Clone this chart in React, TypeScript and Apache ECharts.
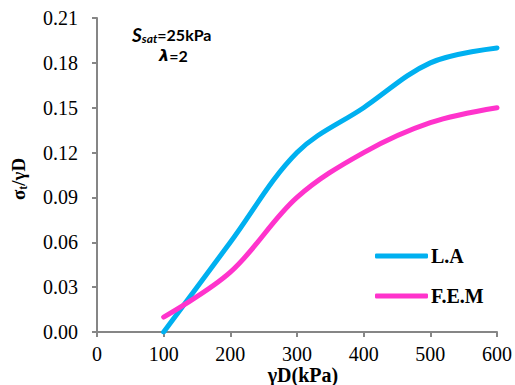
import React, { useEffect, useRef } from "react";
import * as echarts from "echarts";

const xValues = [100, 200, 300, 400, 500, 600];
const laValues = [0.0, 0.06, 0.12, 0.15, 0.18, 0.19];
const femValues = [0.01, 0.04, 0.09, 0.12, 0.14, 0.15];
const seriesNames = ["L.A", "F.E.M"];

export default function App() {
  const ref = useRef<HTMLDivElement>(null);
  useEffect(() => {
    const chart = echarts.init(ref.current!, null, { renderer: "svg" });
    const serif = "Liberation Serif, Times New Roman, serif";
    const sans = "Lato";
    chart.setOption({
      animation: false,
      backgroundColor: "#ffffff",
      grid: { left: 97, right: 18, top: 18, bottom: 53, containLabel: false },
      xAxis: {
        type: "value",
        min: 0,
        max: 600,
        interval: 100,
        axisLine: { show: true, lineStyle: { color: "#868686", width: 2 } },
        axisTick: { show: true, length: 5, lineStyle: { color: "#868686", width: 2 } },
        splitLine: { show: false },
        axisLabel: { color: "#000", fontFamily: serif, fontSize: 20, margin: 12 },
      },
      yAxis: {
        type: "value",
        min: 0,
        max: 0.21,
        interval: 0.03,
        axisLine: { show: true, lineStyle: { color: "#868686", width: 2 } },
        axisTick: { show: true, length: 5, lineStyle: { color: "#868686", width: 2 } },
        splitLine: { show: false },
        axisLabel: {
          color: "#000",
          fontFamily: serif,
          fontSize: 20,
          margin: 19,
          formatter: (v: number) => v.toFixed(2),
        },
      },
      legend: {
        orient: "vertical",
        left: 370,
        top: 241,
        itemWidth: 53,
        itemHeight: 5,
        itemGap: 20,
        icon: "roundRect",
        data: seriesNames,
        textStyle: { fontFamily: serif, fontSize: 20, fontWeight: "bold", color: "#000", padding: [0, 0, 0, -2] },
      },
      series: [
        {
          name: seriesNames[0],
          type: "line",
          smooth: 0.35,
          showSymbol: false,
          data: xValues.map((x, i) => [x, laValues[i]]),
          lineStyle: { color: "#00B0F0", width: 5, cap: "round" },
          itemStyle: { color: "#00B0F0" },
        },
        {
          name: seriesNames[1],
          type: "line",
          smooth: 0.35,
          showSymbol: false,
          data: xValues.map((x, i) => [x, femValues[i]]),
          lineStyle: { color: "#FF33CC", width: 5, cap: "round" },
          itemStyle: { color: "#FF33CC" },
        },
      ],
      graphic: [
        {
          type: "text",
          left: 132,
          top: 25,
          style: {
            text: "{s|S}{sub|sat}{n|=25kPa}",
            rich: {
              s: { fontFamily: sans, fontStyle: "italic", fontWeight: "bold", fontSize: 19, fill: "#000" },
              sub: { fontFamily: sans, fontStyle: "italic", fontWeight: "bold", fontSize: 12, fill: "#000", padding: [7, 0, 0, 0] },
              n: { fontFamily: sans, fontWeight: "bold", fontSize: 16, fill: "#000" },
            },
          },
        },
        {
          type: "text",
          left: 159,
          top: 47,
          style: {
            text: "{l|λ}{n|=2}",
            rich: {
              l: { fontFamily: "DejaVu Sans", fontStyle: "italic", fontWeight: "bold", fontSize: 16, fill: "#000" },
              n: { fontFamily: sans, fontWeight: "bold", fontSize: 16, fill: "#000" },
            },
          },
        },
        {
          type: "text",
          x: 18,
          y: 179,
          rotation: Math.PI / 2,
          style: {
            text: "{a|σ}{sub|t}{a|/γD}",
            align: "center",
            verticalAlign: "middle",
            rich: {
              a: { fontFamily: serif, fontWeight: "bold", fontSize: 19, fill: "#000" },
              sub: { fontFamily: serif, fontWeight: "bold", fontSize: 12, fill: "#000", padding: [9, 0, 0, 0] },
            },
          },
        },
        {
          type: "text",
          x: 303,
          y: 375,
          style: {
            text: "γD(kPa)",
            align: "center",
            verticalAlign: "middle",
            fontFamily: serif,
            fontWeight: "bold",
            fontSize: 20,
            fill: "#000",
          },
        },
      ],
    });
    return () => chart.dispose();
  }, []);
  return <div ref={ref} style={{ position: "fixed", left: 0, top: 0, width: 515, height: 385 }} />;
}
